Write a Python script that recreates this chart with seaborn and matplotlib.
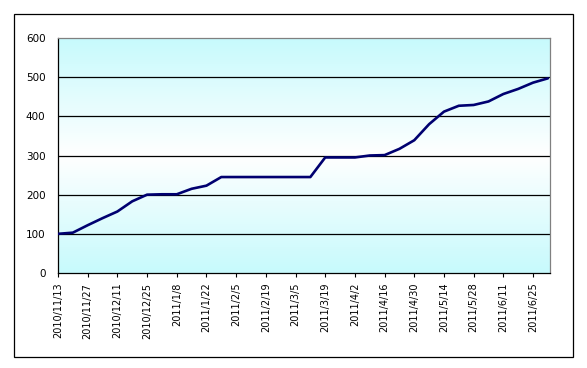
import numpy as np
import pandas as pd
import matplotlib
matplotlib.use("Agg")
import matplotlib.pyplot as plt
from matplotlib.patches import Rectangle
import seaborn as sns

dates = pd.date_range("2010-11-13", "2011-07-02", freq="7D")
values = [100, 103, 122, 140, 157, 183, 200, 201, 201, 215, 223, 245,
          245, 245, 245, 245, 245, 245, 295, 295, 295, 300, 301, 317,
          339, 380, 412, 427, 429, 438, 457, 470, 486, 497]
tick_dates = pd.date_range("2010-11-13", "2011-06-25", freq="14D")
tick_labels = [f"{d.year}/{d.month}/{d.day}" for d in tick_dates]
y_ticks = [0, 100, 200, 300, 400, 500, 600]

df = pd.DataFrame({"date": dates, "value": values})

sns.set_style("white")
plt.rcParams['font.family'] = ['DejaVu Sans']
plt.rcParams['text.color'] = 'black'
plt.rcParams['xtick.color'] = 'black'
plt.rcParams['ytick.color'] = 'black'

fig = plt.figure(figsize=(5.87, 3.68), dpi=100)
W, H = 587, 368
ax = fig.add_axes([58 / W, 1 - 273 / H, (550 - 58) / W, (273 - 38) / H])

# outer frame
fig.patches.append(Rectangle((14 / W, 1 - 357 / H), (573 - 14) / W, (357 - 14) / H,
                             transform=fig.transFigure, fill=False,
                             edgecolor="black", linewidth=0.9, zorder=0))

# gradient background
cyan = np.array([0.78, 0.98, 0.99])
white = np.array([1.0, 1.0, 1.0])
t = np.linspace(0, 1, 256)
w = np.abs(t - 0.5) * 2
grad = (white[None, :] * (1 - w[:, None]) + cyan[None, :] * w[:, None])[:, None, :]
ax.imshow(grad, extent=[0, 1, 0, 1], transform=ax.transAxes, aspect="auto",
          zorder=0, origin="lower")

for yv in y_ticks[1:-1]:
    ax.axhline(yv, color="black", linewidth=0.9, zorder=1)

sns.lineplot(data=df, x="date", y="value", ax=ax, color="#000070",
             linewidth=1.9, zorder=3)

ax.set_xlim(pd.Timestamp("2010-11-13"), pd.Timestamp("2011-07-03"))
ax.set_ylim(0, 600)
ax.set_xticks(tick_dates)
ax.set_xticklabels(tick_labels, rotation=90, fontsize=7, color="black")
ax.set_yticks(y_ticks)
ax.set_yticklabels([str(v) for v in y_ticks], fontsize=7.5, color="black")
ax.tick_params(axis="x", length=3, width=0.8, color="black", pad=4, bottom=True)
ax.tick_params(axis="y", length=0, pad=9, left=True)
ax.set_xlabel("")
ax.set_ylabel("")
ax.grid(False)
for s in ["left", "bottom"]:
    ax.spines[s].set_color("black")
    ax.spines[s].set_linewidth(0.9)
for s in ["top", "right"]:
    ax.spines[s].set_color("#808080")
    ax.spines[s].set_linewidth(0.9)

fig.savefig("out.png", dpi=100)
